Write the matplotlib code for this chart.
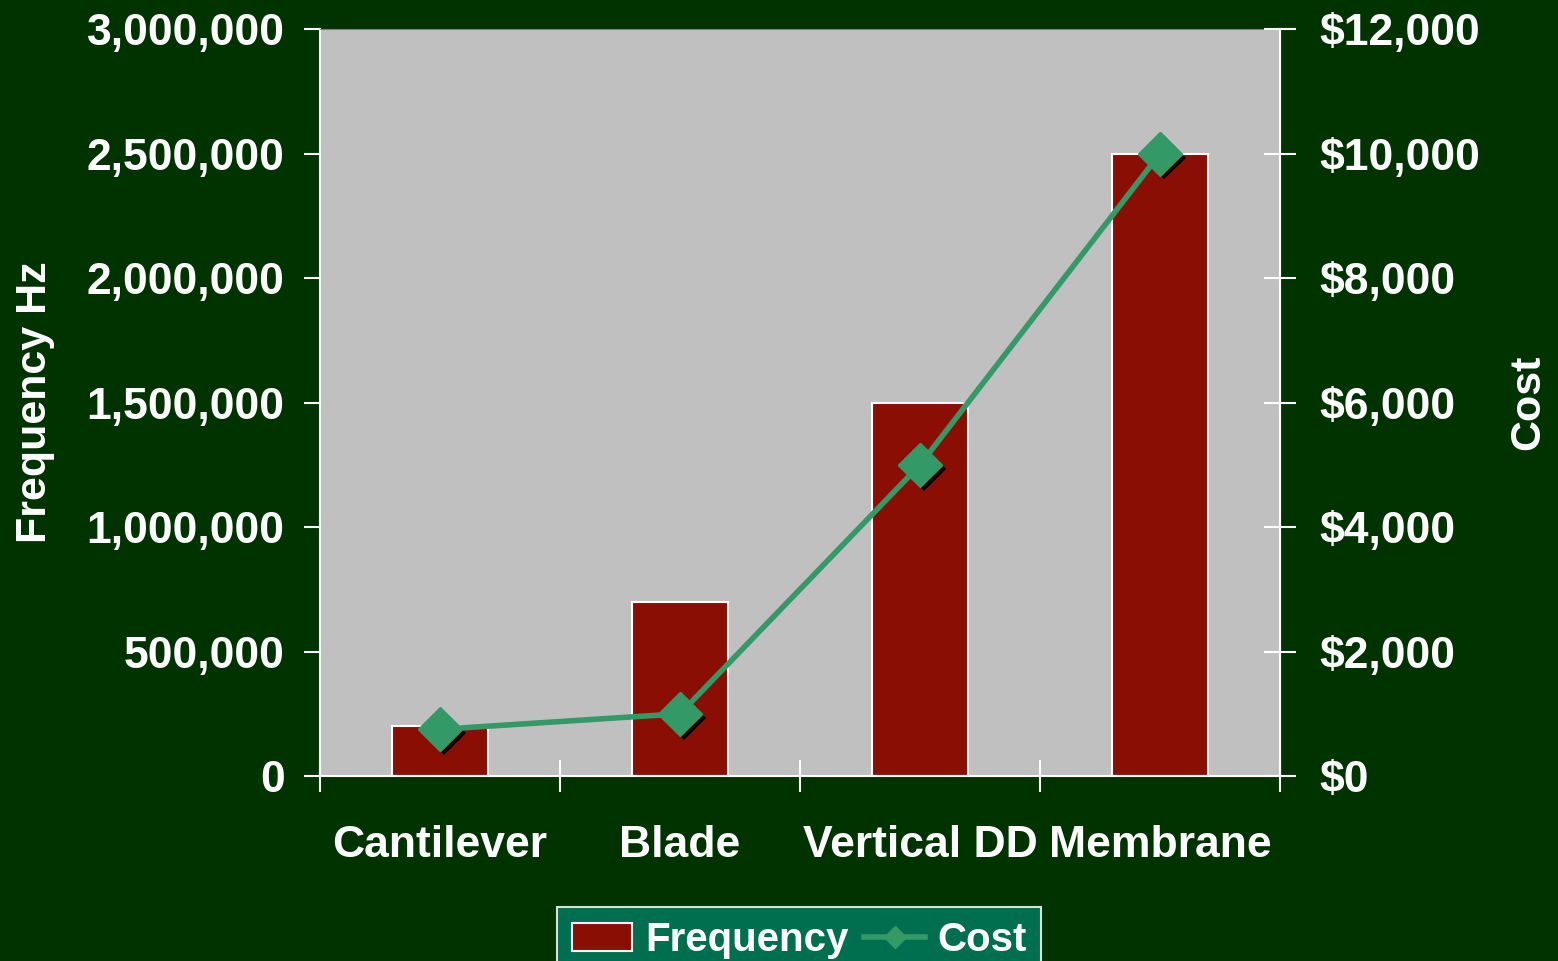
import matplotlib.pyplot as plt
import matplotlib.patheffects as pe
from matplotlib.ticker import FuncFormatter, FixedLocator

# Data
categories = ["Cantilever", "Blade", "Vertical DD", "Membrane"]
frequency = [200000, 700000, 1500000, 2500000]
cost = [750, 1000, 5000, 10000]

freq_ticks = [0, 500000, 1000000, 1500000, 2000000, 2500000, 3000000]
cost_ticks = [0, 2000, 4000, 6000, 8000, 10000, 12000]

plt.rcParams['font.family'] = ['Liberation Sans', 'DejaVu Sans']
plt.rcParams['font.weight'] = 'bold'
plt.rcParams['axes.labelweight'] = 'bold'

bg = '#003300'
fig = plt.figure(figsize=(15.58, 9.61), dpi=100, facecolor=bg)
ax = fig.add_axes([0.2054, 0.1925, 0.6162, 0.7773])
ax.set_facecolor('#C0C0C0')

x = list(range(len(categories)))
bars = ax.bar(x, frequency, width=0.4, color='#8A0E04', edgecolor='white',
              linewidth=1.5, label='Frequency', zorder=2)

ax.set_xlim(-0.5, len(categories) - 0.5)
ax.set_ylim(0, 3000000)
ax.set_yticks(freq_ticks)
ax.yaxis.set_major_formatter(FuncFormatter(lambda v, p: f"{v:,.0f}"))

# category boundaries as major ticks, labels on minor ticks
ax.xaxis.set_major_locator(FixedLocator([i - 0.5 for i in range(len(categories) + 1)]))
ax.xaxis.set_minor_locator(FixedLocator(x))
ax.set_xticklabels([])
ax.set_xticklabels(categories, minor=True)
ax.tick_params(axis='x', which='major', direction='inout', length=23, width=1.5, color='white')
ax.tick_params(axis='x', which='minor', length=0, pad=35, labelsize=32, labelcolor='white')
ax.tick_params(axis='y', direction='out', length=11.5, width=1.5, color='white',
               labelsize=32, labelcolor='white', pad=14)

for side in ['left', 'bottom', 'right']:
    ax.spines[side].set_color('white')
    ax.spines[side].set_linewidth(1.5)
ax.spines['top'].set_color('#808080')

ax.set_ylabel("Frequency Hz", fontsize=31, color='white', labelpad=23)

ax2 = ax.twinx()
ax2.set_ylim(0, 12000)
ax2.set_yticks(cost_ticks)
ax2.yaxis.set_major_formatter(FuncFormatter(lambda v, p: f"${v:,.0f}"))
ax2.tick_params(axis='y', direction='inout', length=23, width=1.5, color='white',
                labelsize=32, labelcolor='white', pad=17)
for side in ['left', 'bottom', 'top']:
    ax2.spines[side].set_visible(False)
ax2.spines['right'].set_color('white')
ax2.spines['right'].set_linewidth(1.5)
ax2.set_ylabel("Cost", fontsize=31, color='white', labelpad=20)

# shadow markers underneath, then the line with markers
ax2.plot(x, cost, linestyle='none', marker='D', markersize=22, color='#339966',
         path_effects=[pe.SimplePatchShadow(offset=(3, -3), shadow_rgbFace='black', alpha=1),
                       pe.Normal()], zorder=3)
line, = ax2.plot(x, cost, color='#339966', linewidth=4, marker='D', markersize=22,
                 label='Cost', zorder=4)

leg = fig.legend([bars, line], ['Frequency', 'Cost'], loc='upper center',
                 bbox_to_anchor=(0.513, 1 - 907 / 961), borderaxespad=0, ncol=2, fontsize=29,
                 frameon=True, fancybox=False, facecolor='#006F50', edgecolor='#DDDDDD',
                 framealpha=1, handlelength=1.5, handletextpad=0.32, columnspacing=0.4,
                 borderpad=0.35, markerscale=0.5)
leg.get_frame().set_linewidth(1.5)
for t in leg.get_texts():
    t.set_color('white')

fig.savefig('out.png', dpi=100, facecolor=bg)
